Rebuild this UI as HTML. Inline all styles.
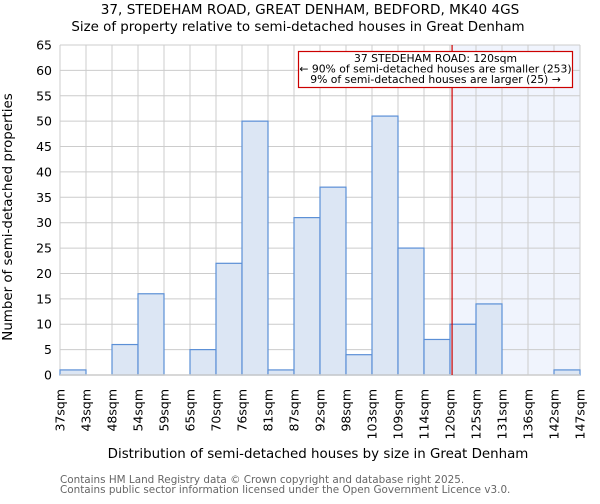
<!DOCTYPE html>
<html><head><meta charset="utf-8"><style>
body{margin:0;background:#fff;font-family:"DejaVu Sans","Liberation Sans",sans-serif}
</style></head><body>
<svg id="c" width="600" height="500" xmlns="http://www.w3.org/2000/svg" font-family="DejaVu Sans, Liberation Sans, sans-serif">
<text x="310" y="14" font-size="13.6" text-anchor="middle">37, STEDEHAM ROAD, GREAT DENHAM, BEDFORD, MK40 4GS</text>
<text x="298" y="31" font-size="13.4" text-anchor="middle">Size of property relative to semi-detached houses in Great Denham</text>
<g id="grid"></g><g id="bars"></g><g id="axes"></g>
<text x="318" y="458" font-size="13.4" text-anchor="middle">Distribution of semi-detached houses by size in Great Denham</text>
<text transform="translate(12,217) rotate(-90)" font-size="13.4" text-anchor="middle">Number of semi-detached properties</text>
<text x="60" y="483" font-size="10.4" fill="#666">Contains HM Land Registry data © Crown copyright and database right 2025.</text>
<text x="60" y="493" font-size="10.4" fill="#666">Contains public sector information licensed under the Open Government Licence v3.0.</text>
</svg>
<script>
const labels=["37sqm","43sqm","48sqm","54sqm","59sqm","65sqm","70sqm","76sqm","81sqm","87sqm","92sqm","98sqm","103sqm","109sqm","114sqm","120sqm","125sqm","131sqm","136sqm","142sqm","147sqm"];
const counts=[1,0,6,16,0,5,22,50,1,31,37,4,51,25,7,10,14,0,0,1];
const yTicks=[0,5,10,15,20,25,30,35,40,45,50,55,60,65];
const markerBin=15.08;
const NS="http://www.w3.org/2000/svg";
const L=60,R=580,T=45,B=375,YMAX=65;
const bw=(R-L)/counts.length;
const xs=i=>L+i*bw, ys=v=>B-v/YMAX*(B-T);
function mk(tag,a,p){const e=document.createElementNS(NS,tag);for(const k in a)e.setAttribute(k,a[k]);p.appendChild(e);return e;}
const g=document.getElementById('grid'),bg=document.getElementById('bars'),ax=document.getElementById('axes');
const sh=mk('rect',{x:xs(markerBin),y:T,width:R-xs(markerBin),height:B-T,fill:'#f0f4fd'},g);


yTicks.forEach(v=>{
 const l=mk('line',{x1:L,x2:R,y1:ys(v),y2:ys(v),stroke:'#ccc','stroke-width':1},g);
 
 
 const t=mk('text',{x:L-8,y:ys(v)+4.5,'font-size':12.5,'text-anchor':'end'},ax);t.textContent=v;
 
 
});
labels.forEach((s,i)=>{
 const x=xs(i);
 const l=mk('line',{x1:x,x2:x,y1:T,y2:B,stroke:'#ccc','stroke-width':1},g);
 
 
 const t=mk('text',{transform:`translate(${x+4.5},389) rotate(-90)`,'font-size':12.5,'text-anchor':'end'},ax);t.textContent=s;
 
 
});
counts.forEach((c,i)=>{
 if(c<=0)return;
 const r=mk('rect',{x:xs(i),y:ys(c),width:bw,height:B-ys(c),fill:'#dce6f4',stroke:'#5b8fd6','stroke-width':1.2},bg);
 
 
});
const bl=mk('line',{x1:L,x2:R,y1:B,y2:B,stroke:'#ccc','stroke-width':1.5},ax);


const ml=mk('line',{x1:xs(markerBin),x2:xs(markerBin),y1:T,y2:B,stroke:'#cc0000','stroke-width':1.2},ax);


const box=mk('rect',{x:298.5,y:51.5,width:274,height:36,fill:'#fff',stroke:'#cc0000','stroke-width':1.2},ax);


["37 STEDEHAM ROAD: 120sqm","← 90% of semi-detached houses are smaller (253)","9% of semi-detached houses are larger (25) →"].forEach((s,i)=>{
 const t=mk('text',{x:435.5,y:62+i*10.5,'font-size':10.8,'text-anchor':'middle'},ax);t.textContent=s;
 
 
});
</script>
</body></html>
